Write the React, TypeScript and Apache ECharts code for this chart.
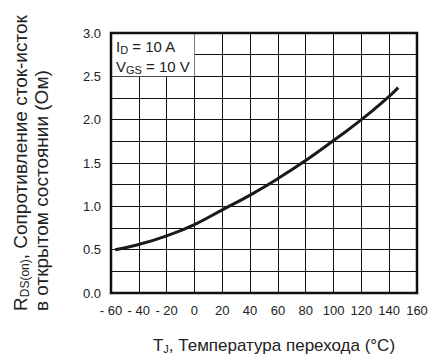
import React, { useEffect, useRef } from "react";
import * as echarts from "echarts";

const temperatures = [-57, -40, -20, 0, 20, 40, 60, 80, 100, 120, 140, 146.5];
const resistance = [0.5, 0.56, 0.66, 0.79, 0.96, 1.13, 1.32, 1.53, 1.76, 2.0, 2.27, 2.37];
const xRange = [-60, 160];
const yRange = [0, 3];
const noteBox = [[-60, 2.5], [0, 3.0]];

const FONT = "'Liberation Sans', Arial, Helvetica, sans-serif";

export default function App() {
  const ref = useRef<HTMLDivElement>(null);
  useEffect(() => {
    if (!ref.current) return;
    const chart = echarts.init(ref.current, undefined, { renderer: "svg" });
    chart.setOption({
      animation: false,
      backgroundColor: "#fff",
      textStyle: { fontFamily: FONT },
      grid: {
        left: 111,
        right: 28,
        top: 33,
        bottom: 69,
        show: true,
        borderColor: "#111",
        borderWidth: 2.5,
        backgroundColor: "transparent",
        z: 10,
      },
      xAxis: {
        type: "value",
        min: xRange[0],
        max: xRange[1],
        interval: 20,
        axisLine: { show: false },
        axisTick: { show: false },
        splitLine: { show: true, lineStyle: { color: "#111", width: 1 } },
        axisLabel: {
          margin: 11,
          fontSize: 13,
          color: "#222",
          fontFamily: FONT,
          formatter: (v: number) => (v < 0 ? "- " + Math.abs(v) : String(v)),
        },
      },
      yAxis: {
        type: "value",
        min: yRange[0],
        max: yRange[1],
        interval: 0.25,
        axisLine: { show: false },
        axisTick: { show: false },
        splitLine: { show: true, lineStyle: { color: "#111", width: 1 } },
        axisLabel: {
          margin: 10,
          fontSize: 13,
          color: "#222",
          fontFamily: FONT,
          formatter: (v: number) =>
            Math.abs(Math.round(v * 2) - v * 2) < 1e-6 ? v.toFixed(1) : "",
        },
      },
      graphic: [
        {
          type: "text",
          x: 274,
          y: 345,
          style: {
            text: "{a|T}{s|J}{a|, Температура перехода (°C)}",
            align: "center",
            verticalAlign: "middle",
            rich: {
              a: { fontSize: 17, fontFamily: FONT, fill: "#222" },
              s: { fontSize: 11, fontFamily: FONT, fill: "#222", padding: [8, 0, 0, 0] },
            },
          },
        },
        {
          type: "text",
          x: 10,
          y: 311,
          rotation: Math.PI / 2,
          style: {
            text:
              "{a|R}{s|DS(on)}{a|, Сопротивление сток-исток}\n{a|в открытом состоянии (Ом)}",
            align: "left",
            verticalAlign: "top",
            rich: {
              a: { fontSize: 19, fontFamily: FONT, fill: "#222", lineHeight: 21 },
              s: { fontSize: 12, fontFamily: FONT, fill: "#222", lineHeight: 21, padding: [8, 0, 0, 0] },
            },
          },
        },
      ],
      series: [
        {
          type: "line",
          data: temperatures.map((t, i) => [t, resistance[i]]),
          smooth: true,
          showSymbol: false,
          lineStyle: { color: "#1a1a1a", width: 3 },
          markArea: {
            silent: true,
            itemStyle: { color: "#fff", borderWidth: 0 },
            label: {
              show: true,
              position: [5, 3],
              formatter: "{a|I}{s|D}{a| = 10 A}\n{a|V}{s|GS}{a| = 10 V}",
              rich: {
                a: { fontSize: 15, fontFamily: FONT, color: "#222", lineHeight: 20 },
                s: { fontSize: 11, fontFamily: FONT, color: "#222", lineHeight: 20, padding: [7, 0, 0, 0] },
              },
            },
            data: [[{ coord: noteBox[0] }, { coord: noteBox[1] }]],
          },
        },
      ],
    });
    return () => chart.dispose();
  }, []);
  return (
    <div
      ref={ref}
      style={{ width: 445, height: 362, position: "fixed", left: 0, top: 0 }}
    />
  );
}
